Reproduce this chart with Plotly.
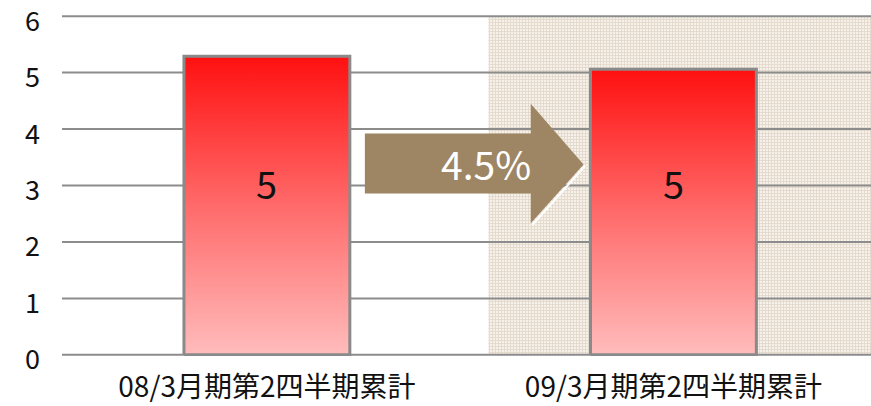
import plotly.graph_objects as go

# data
categories = ["08/3月期第2四半期累計", "09/3月期第2四半期累計"]
values = [5.29, 5.06]
y_ticks = [0, 1, 2, 3, 4, 5, 6]

change = (values[0] / values[1] - 1) * 100

font_jp = "Noto Sans CJK JP"
grid_col = "#8c8c8c"
bar_w = 0.408
x_lo, x_hi = -0.504, 1.486
shade_from = 0.545

fig = go.Figure()

# dotted background on the right half
fig.add_trace(go.Bar(
    x=[(shade_from + x_hi) / 2], y=[max(y_ticks)], width=[x_hi - shade_from],
    marker=dict(color="#f6f1ea", line=dict(width=0),
                pattern=dict(shape="+", size=3, solidity=0.45,
                             fgcolor="#cdbda6", bgcolor="#f6f1ea", fillmode="overlay")),
    hoverinfo="skip", showlegend=False,
))

# gridlines (drawn as traces so they sit over the patterned area)
for t in y_ticks:
    fig.add_trace(go.Scatter(
        x=[x_lo, x_hi], y=[t, t], mode="lines",
        line=dict(color=grid_col, width=2),
        hoverinfo="skip", showlegend=False,
    ))
    # y tick label, sits a little below its gridline like the original
    fig.add_annotation(x=0, xref="paper", y=t, yref="y", text=str(t), showarrow=False,
                       xanchor="right", xshift=-20, yshift=-3,
                       font=dict(family=font_jp, size=27, color="#111111"))

# gradient bars
for i, v in enumerate(values):
    x0, x1 = i - bar_w / 2, i + bar_w / 2
    fig.add_trace(go.Scatter(
        x=[x0, x1, x1, x0, x0], y=[0, 0, v, v, 0],
        mode="lines", fill="toself",
        fillgradient=dict(type="vertical",
                          colorscale=[[0, "#ffbcbc"], [0.5, "#ff6a6a"], [1, "#ff1010"]]),
        line=dict(color="#8a8a8a", width=3),
        hoverinfo="skip", showlegend=False,
    ))
    fig.add_annotation(x=i, y=3.05, text=f"{round(v)}", showarrow=False,
                       font=dict(family=font_jp, size=38, color="#111111"))

# arrow
xb, xh, xt = 0.241, 0.649, 0.779
yb1, yb2, yh1, yh2, yt = 3.92, 2.86, 4.45, 2.33, 3.37
fig.add_shape(type="path", xref="x", yref="y",
              path=f"M {xb},{yb1} L {xh},{yb1} L {xh},{yh1} L {xt},{yt} L {xh},{yh2} L {xh},{yb2} L {xb},{yb2} Z",
              fillcolor="#9e8665", line=dict(width=0), layer="above")
fig.add_shape(type="line", xref="x", yref="y",
              x0=xt + 0.004, y0=yt - 0.02, x1=xh + 0.004, y1=yh2 - 0.03,
              line=dict(color="white", width=2), layer="above")
fig.add_annotation(x=0.538, y=3.40, text=f"{change:.1f}%", showarrow=False,
                   font=dict(family=font_jp, size=39, color="white"))

fig.update_layout(
    width=871, height=406,
    margin=dict(l=62, r=0, t=15, b=50),
    paper_bgcolor="white", plot_bgcolor="white",
    showlegend=False, barmode="overlay",
    font=dict(family=font_jp, color="#111111"),
    xaxis=dict(range=[x_lo, x_hi], tickmode="array", tickvals=[0, 1], ticktext=categories,
               showgrid=False, zeroline=False, showline=False, ticks="", automargin=False,
               tickfont=dict(size=28), ticklabelstandoff=12, fixedrange=True),
    yaxis=dict(range=[-0.02, 6.02], showticklabels=False, showgrid=False, automargin=False,
               zeroline=False, showline=False, ticks="", fixedrange=True),
)

fig.write_html("out.html", config={"displayModeBar": False},
               post_script="document.body.style.margin='0';")
